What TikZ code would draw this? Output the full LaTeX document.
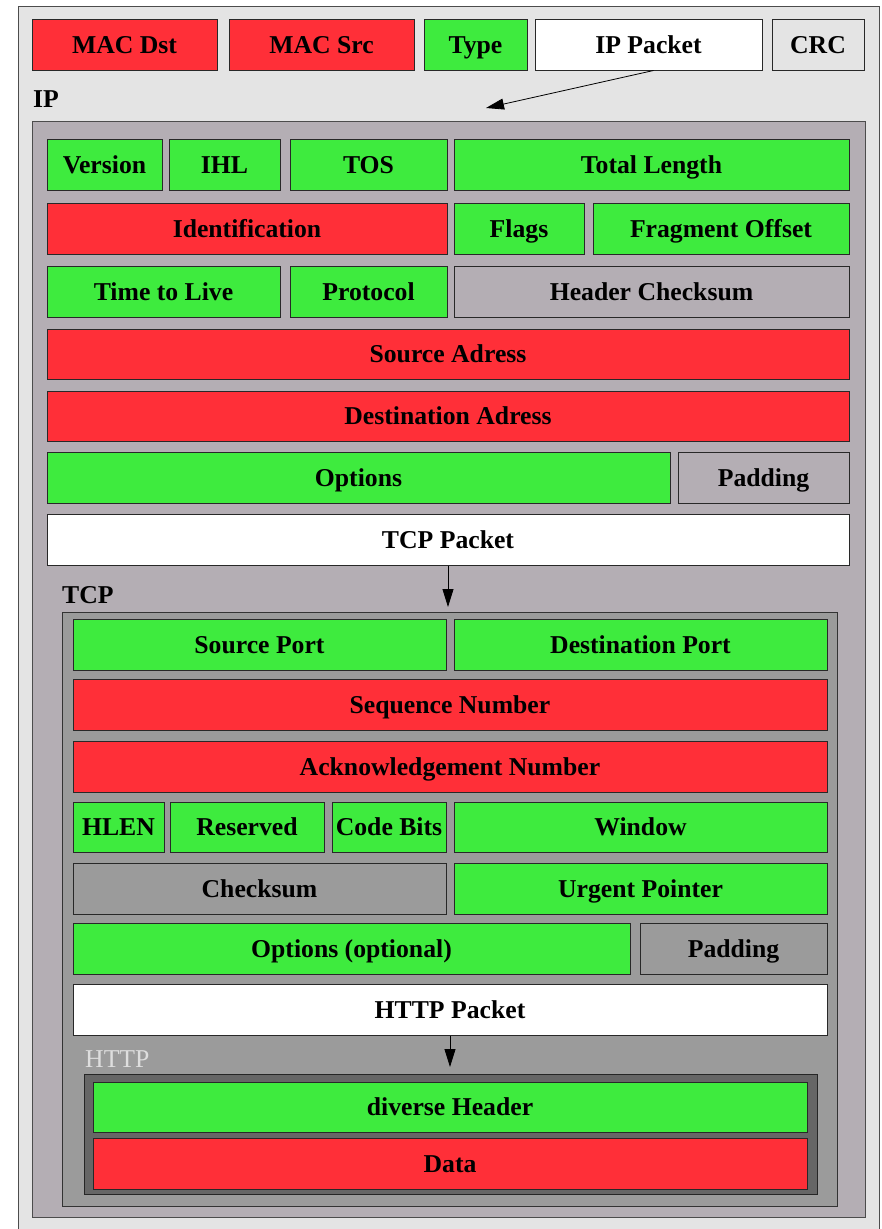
\documentclass[tikz,border=0pt]{standalone}
\usepackage{fontspec}
\setmainfont{Liberation Serif}
\usetikzlibrary{arrows.meta}
\definecolor{fred}{RGB}{255,47,56}
\definecolor{fgreen}{RGB}{62,235,62}
\definecolor{outerbg}{RGB}{228,228,228}
\definecolor{ipbg}{RGB}{180,174,180}
\definecolor{tcpbg}{RGB}{155,155,155}
\definecolor{httpbg}{RGB}{102,102,102}
\definecolor{edgec}{RGB}{40,40,40}
\definecolor{httplbl}{RGB}{222,222,222}
\newcommand\fld[7]{\node[field,#6,minimum width={(#4)-(#2)},minimum height={(#5)-(#3)}] (#1) at ({((#2)+(#4))/2},{((#3)+(#5))/2}) {#7};}
\tikzset{
  field/.style={rectangle, draw=edgec, line width=1pt, inner sep=0pt,
    font=\fontsize{25.7}{30}\selectfont\bfseries, text height=17pt, text depth=0pt},
  red/.style={fill=fred},
  grn/.style={fill=fgreen},
  wht/.style={fill=white},
  ipf/.style={fill=ipbg},
  tcpf/.style={fill=tcpbg},
  lgt/.style={fill=outerbg},
  lbl/.style={inner sep=0pt, anchor=base west, font=\fontsize{25.7}{30}\selectfont\bfseries},
  conn/.style={-{Triangle[length=18pt,width=11pt]}, line width=0.8pt, black},
}
\begin{document}
\begin{tikzpicture}[x=1pt,y=-1pt]
\useasboundingbox (0,0) rectangle (881,1229);
\clip (0,0) rectangle (881,1229);
\fill[white] (0,0) rectangle (881,1229);
% containers
\fld{outer}{18.5}{6}{879}{1240}{lgt, draw=black!70}{}
\fld{ipBox}{32}{121}{865}{1217}{ipf, draw=black!70}{}
\fld{tcpBox}{62}{612}{837}{1206}{tcpf, draw=black!80}{}
\fld{httpBox}{84}{1074}{817}{1194}{fill=httpbg, draw=black!85}{}
% Ethernet frame
\fld{macDst}{32}{19}{217}{70}{red}{MAC Dst}
\fld{macSrc}{229}{19}{414}{70}{red}{MAC Src}
\fld{type}{424}{19}{527}{70}{grn}{Type}
\fld{ipPkt}{535}{19}{762}{70}{wht}{IP Packet}
\fld{crc}{772}{19}{864}{70}{lgt}{CRC}
\node[lbl] (ipLbl) at (33,107) {IP};
% IP header
\fld{version}{47}{139}{162}{190}{grn}{Version}
\fld{ihl}{169}{139}{280}{190}{grn}{IHL}
\fld{tos}{290}{139}{447}{190}{grn}{TOS}
\fld{totLen}{454}{139}{849}{190}{grn}{Total Length}
\fld{ident}{47}{203}{447}{254}{red}{Identification}
\fld{flags}{454}{203}{584}{254}{grn}{Flags}
\fld{fragOff}{593}{203}{849}{254}{grn}{Fragment Offset}
\fld{ttl}{47}{266}{280}{317}{grn}{Time to Live}
\fld{proto}{290}{266}{447}{317}{grn}{Protocol}
\fld{hdrChk}{454}{266}{849}{317}{ipf}{Header Checksum}
\fld{srcAddr}{47}{329}{849}{379}{red}{Source Adress}
\fld{dstAddr}{47}{391}{849}{441}{red}{Destination Adress}
\fld{ipOpt}{47}{452}{670}{503}{grn}{Options}
\fld{ipPad}{678}{452}{849}{503}{ipf}{Padding}
\fld{tcpPkt}{47}{514}{849}{565}{wht}{TCP Packet}
\node[lbl] (tcpLbl) at (62,603) {TCP};
% TCP header
\fld{srcPort}{73}{619}{446}{670}{grn}{Source Port}
\fld{dstPort}{454}{619}{827}{670}{grn}{Destination Port}
\fld{seqNum}{73}{679}{827}{730}{red}{Sequence Number}
\fld{ackNum}{73}{741}{827}{792}{red}{Acknowledgement Number}
\fld{hlen}{73}{802}{164}{852}{grn}{HLEN}
\fld{reserved}{170}{802}{324}{852}{grn}{Reserved}
\fld{codeBits}{332}{802}{446}{852}{grn}{Code Bits}
\fld{window}{454}{802}{827}{852}{grn}{Window}
\fld{tcpChk}{73}{863}{446}{914}{tcpf}{Checksum}
\fld{urgPtr}{454}{863}{827}{914}{grn}{Urgent Pointer}
\fld{tcpOpt}{73}{923}{630}{974}{grn}{Options (optional)}
\fld{tcpPad}{640}{923}{827}{974}{tcpf}{Padding}
\fld{httpPkt}{73}{984}{827}{1035}{wht}{HTTP Packet}
\node[lbl, font=\fontsize{25.7}{30}\selectfont, text=httplbl] (httpLbl) at (85,1067) {HTTP};
% HTTP
\fld{divHdr}{93}{1082}{807}{1132}{grn}{diverse Header}
\fld{data}{93}{1138}{807}{1189}{red}{Data}
% connectors
\coordinate (ipIn) at (486,108);
\coordinate (tcpIn) at (448,607);
\coordinate (httpIn) at (450,1067);
\draw[conn] ([xshift=5pt]ipPkt.south) -- (ipIn);
\draw[conn] (tcpPkt.south) -- (tcpIn);
\draw[conn] (httpPkt.south) -- (httpIn);
\end{tikzpicture}
\end{document}
